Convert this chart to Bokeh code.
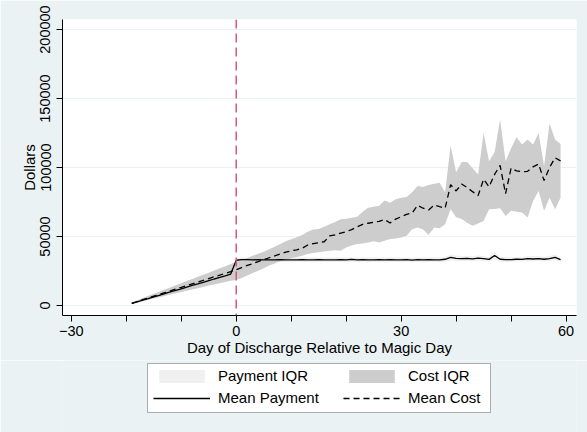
from bokeh.plotting import figure
from bokeh.layouts import column
from bokeh.models import (Span, Legend, LegendItem, FixedTicker, Range1d,
                          BasicTickFormatter, BoxAnnotation)
from bokeh.embed import file_html
from bokeh.resources import INLINE

# Day of discharge relative to the magic day
days = list(range(-19, 60))

# Mean payment (dollars)
pay_mean = [
    1500, 2700, 3900, 5000, 6200, 7400, 8600, 9800, 10900, 12100,
    13300, 14500, 15600, 16800, 18000, 19200, 20300, 21500, 22800,
    32800, 33200, 33200, 33100, 33200, 33100, 33000, 33100, 33200, 33100,
    33000, 33100, 33200, 33100, 33000, 33200, 33100, 33000, 33100, 33300,
    33000, 33400, 33100, 33300, 33000, 33100, 33300, 33000, 33200, 33100,
    33000, 33300, 32900, 33200, 33000, 33300, 33100, 33000, 33500, 34800,
    34200, 33900, 34100, 33800, 34300, 33900, 33400, 36200, 33500, 33300,
    33300, 33500, 33400, 33900, 33700, 34000, 33500, 34000, 34900, 33200,
]

# Payment interquartile range
pay_lo = [
    1300, 2400, 3500, 4500, 5600, 6700, 7800, 8900, 9900, 11000,
    12100, 13200, 14200, 15300, 16400, 17500, 18500, 19600, 20800,
    30500, 31200, 31500, 31500, 31600, 31500, 31400, 31500, 31600, 31500,
    31400, 31500, 31600, 31500, 31400, 31600, 31500, 31400, 31500, 31600,
    31400, 31700, 31500, 31600, 31400, 31500, 31600, 31400, 31600, 31500,
    31400, 31600, 31300, 31600, 31400, 31600, 31500, 31400, 31700, 32600,
    32300, 32100, 32300, 32000, 32400, 32100, 31700, 33600, 31800, 31600,
    31600, 31800, 31700, 32100, 31900, 32200, 31800, 32200, 32800, 31500,
]
pay_hi = [
    1700, 3000, 4300, 5500, 6800, 8100, 9400, 10700, 11900, 13200,
    14500, 15800, 17000, 18300, 19600, 20900, 22100, 23400, 24800,
    34500, 34900, 34900, 34800, 34900, 34800, 34700, 34800, 34900, 34800,
    34700, 34800, 34900, 34800, 34700, 34900, 34800, 34700, 34800, 35000,
    34700, 35100, 34800, 35000, 34700, 34800, 35000, 34700, 34900, 34800,
    34700, 35000, 34600, 34900, 34700, 35000, 34800, 34700, 35300, 37000,
    36200, 35800, 36000, 35700, 36300, 35800, 35200, 38600, 35300, 35100,
    35100, 35300, 35200, 35800, 35600, 35900, 35300, 35900, 37000, 35000,
]

# Mean cost (dollars)
cost_mean = [
    1600, 2900, 4200, 5500, 6800, 8000, 9300, 10600, 11900, 13100,
    14400, 15700, 16900, 18200, 19500, 20800, 22000, 23300, 24600,
    26000, 27500, 29000, 30300, 31800, 33200, 34600, 36000, 37300, 38600,
    39600, 40300, 41500, 43800, 44800, 45400, 46200, 50400, 51200, 52400,
    53500, 55000, 57000, 58800, 59600, 60300, 61000, 62300, 59800, 62600,
    64300, 66000, 67000, 72600, 70500, 69200, 72800, 71600, 70500, 87500,
    83000, 88000, 85500, 82500, 79600, 91500, 86000, 95000, 101500, 81000,
    99500, 97500, 97000, 97200, 100500, 102500, 90500, 100000, 107000, 104800,
]

# Cost interquartile range
cost_lo = [
    1100, 2100, 3100, 4100, 5000, 6000, 6900, 7900, 8800, 9800,
    10700, 11600, 12500, 13400, 14400, 15300, 16200, 17100, 18000,
    18500, 20000, 21800, 23500, 25200, 27000, 28900, 30500, 32000, 33200,
    34300, 35200, 36000, 37300, 38000, 38600, 39200, 39700, 40000, 39700,
    42000, 43500, 44500, 45000, 45700, 46500, 45700, 47000, 48100, 48500,
    49300, 50500, 55300, 56500, 55000, 51000, 56500, 56000, 58900, 69800,
    64000, 62600, 60000, 57700, 59500, 61300, 69800, 70000, 70500, 64900,
    68600, 68000, 67400, 63700, 75800, 83000, 68600, 78000, 69800, 78000,
]
cost_hi = [
    2200, 3800, 5400, 7000, 8600, 10000, 11600, 13100, 14700, 16200,
    17700, 19200, 20800, 22300, 23800, 25300, 26900, 28400, 30000,
    31500, 33000, 34500, 36000, 37500, 39000, 40800, 42500, 44500, 46500,
    48000, 49500, 51000, 53500, 55000, 55500, 57000, 58800, 60500, 62500,
    62800, 63500, 64300, 68000, 70900, 71500, 72200, 76000, 74500, 77000,
    78000, 78600, 82000, 86600, 85800, 87300, 88200, 89000, 82000, 116000,
    96500, 104000, 104000, 99500, 95000, 125000, 104600, 111000, 134700, 104600,
    114000, 121900, 116600, 120200, 116600, 125000, 101000, 131800, 120200, 117000,
]

x_ticks = [-30, -20, -10, 0, 10, 20, 30, 40, 50, 60]
x_labels = [-30, 0, 30, 60]
y_ticks = [0, 50000, 100000, 150000, 200000]

FONT = "Liberation Sans"
BG = "#EAF2F3"
PAY_IQR = "#F0F0F0"
COST_IQR = "#CDCDCD"
DASH = "6 4"
TICK_SIZE = "14.5px"
TEXT_SIZE = "15px"


def draw_series(fig, visible=True):
    """IQR bands below, mean lines on top."""
    r1 = fig.varea(x=days, y1=pay_lo, y2=pay_hi, fill_color=PAY_IQR,
                   visible=visible)
    r2 = fig.varea(x=days, y1=cost_lo, y2=cost_hi, fill_color=COST_IQR,
                   visible=visible)
    r3 = fig.line(days, pay_mean, line_color="black", line_width=1.3,
                  visible=visible)
    r4 = fig.line(days, cost_mean, line_color="black", line_width=1.3,
                  line_dash=DASH, visible=visible)
    return r1, r2, r3, r4


# ---- main chart -----------------------------------------------------------
p = figure(width=587, height=360,
           x_range=Range1d(-31.6, 61.9), y_range=Range1d(-7250, 207250),
           output_backend="svg", toolbar_location=None,
           min_border_left=62, min_border_right=11,
           min_border_top=19, min_border_bottom=45,
           border_fill_color=BG, background_fill_color="white",
           outline_line_color=None)

draw_series(p)

p.add_layout(Span(location=0, dimension="height", line_color="#D6587C",
                  line_width=1.5, line_dash="9 5"))

# x axis: ticks every 10 days, labels every 30
xt = FixedTicker(ticks=x_ticks)
p.xaxis.ticker = xt
p.xaxis.major_label_overrides = {t: "" for t in x_ticks if t not in x_labels}
p.xaxis.axis_label = "Day of Discharge Relative to Magic Day"

yt = FixedTicker(ticks=y_ticks)
p.yaxis.ticker = yt
p.yaxis.formatter = BasicTickFormatter(use_scientific=False)
p.yaxis.major_label_orientation = "vertical"
p.yaxis.axis_label = "Dollars"

for ax in (p.xaxis[0], p.yaxis[0]):
    ax.axis_line_color = "black"
    ax.axis_line_width = 1
    ax.major_tick_line_color = "black"
    ax.major_tick_out = 6
    ax.major_tick_in = 0
    ax.minor_tick_line_color = None
    ax.major_label_text_font = FONT
    ax.major_label_text_font_size = TICK_SIZE
    ax.major_label_text_color = "black"
    ax.axis_label_text_font = FONT
    ax.axis_label_text_font_size = TEXT_SIZE
    ax.axis_label_text_font_style = "normal"
    ax.axis_label_text_color = "black"

p.xaxis.major_label_standoff = 4
p.xaxis.axis_label_standoff = 0
p.yaxis.major_label_standoff = 6
p.yaxis.axis_label_standoff = 0

p.xgrid.visible = False
p.ygrid.ticker = yt
p.ygrid.grid_line_color = BG
p.ygrid.grid_line_width = 1

# ---- legend strip under the chart (ranges in pixels of the strip) ---------
lg = figure(width=587, height=72, x_range=Range1d(62, 576),
            y_range=Range1d(0, 72),
            x_axis_type=None, y_axis_type=None,
            output_backend="svg", toolbar_location=None,
            min_border_left=62, min_border_right=11,
            min_border_top=0, min_border_bottom=0,
            border_fill_color=BG, background_fill_color=BG,
            outline_line_color=None)

lg.add_layout(BoxAnnotation(left=147, right=490, bottom=20, top=69,
                            fill_color="white", fill_alpha=1,
                            line_color="black", line_width=1,
                            level="underlay"))

k_pay_iqr, k_cost_iqr, k_pay, k_cost = draw_series(lg, visible=False)


def legend_column(items, x):
    leg = Legend(items=items, location=(x, 26))
    leg.label_text_font = FONT
    leg.label_text_font_size = TEXT_SIZE
    leg.label_text_color = "black"
    leg.glyph_width = 57
    leg.glyph_height = 16
    leg.label_height = 16
    leg.label_standoff = 8
    leg.padding = 0
    leg.spacing = 5
    leg.margin = 0
    leg.border_line_color = None
    leg.background_fill_alpha = 0
    return leg


lg.add_layout(legend_column([
    LegendItem(label="Payment IQR", renderers=[k_pay_iqr]),
    LegendItem(label="Mean Payment", renderers=[k_pay]),
], 91))
lg.add_layout(legend_column([
    LegendItem(label="Cost IQR", renderers=[k_cost_iqr]),
    LegendItem(label="Mean Cost", renderers=[k_cost]),
], 281))

open("out.html", "w").write(file_html(column(p, lg, spacing=0), INLINE))
